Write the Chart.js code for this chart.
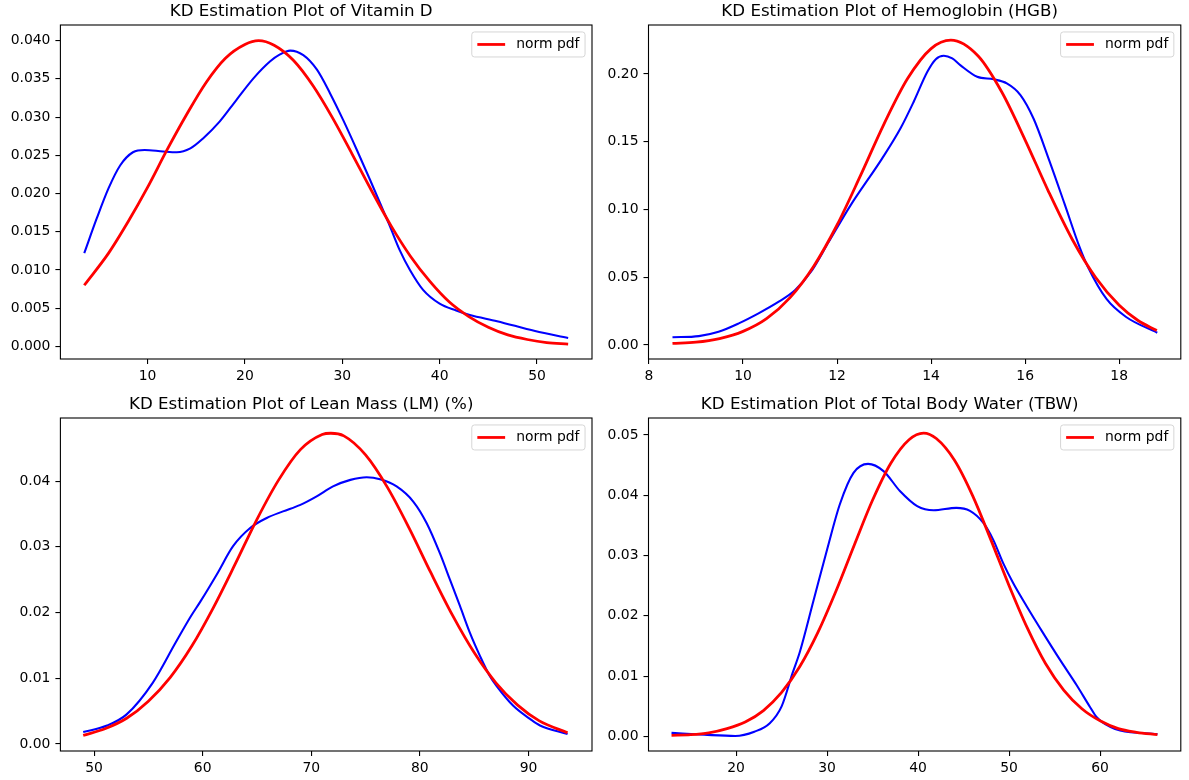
<!DOCTYPE html>
<html>
<head>
<meta charset="utf-8">
<script src="https://cdn.jsdelivr.net/npm/chart.js@4.4.1/dist/chart.umd.min.js"></script>
<style>
  html, body { margin: 0; padding: 0; background: #ffffff; }
  #wrap { position: relative; width: 1189px; height: 780px; overflow: hidden; background: #ffffff; }
  #wrap canvas { position: absolute; }
</style>
</head>
<body>
<div id="wrap">
  <canvas id="c1" width="594" height="390" style="left:0px;top:0px;width:594px;height:390px"></canvas>
  <canvas id="c2" width="595" height="390" style="left:594px;top:0px;width:595px;height:390px"></canvas>
  <canvas id="c3" width="594" height="390" style="left:0px;top:390px;width:594px;height:390px"></canvas>
  <canvas id="c4" width="595" height="390" style="left:594px;top:390px;width:595px;height:390px"></canvas>
</div>
<script>
// ---------------- data ----------------
const titles = [
  "KD Estimation Plot of Vitamin D",
  "KD Estimation Plot of Hemoglobin (HGB)",
  "KD Estimation Plot of Lean Mass (LM) (%)",
  "KD Estimation Plot of Total Body Water (TBW)"
];
const normLabel = "norm pdf";

// Vitamin D
const vitDKdeX  = [3.5, 4.8, 6.0, 7.2, 8.5, 9.7, 11.6, 13.0, 14.4, 15.7, 17.4, 19.1, 20.9, 22.6, 23.6, 24.65, 26.0, 27.4, 28.75, 30.1, 31.5, 32.85, 33.9, 34.9, 35.9, 36.95, 38.3, 40.0, 41.7, 43.1, 45.9, 49.8, 53.2];
const vitDKdeY  = [0.0122, 0.0168, 0.0207, 0.0237, 0.0254, 0.0257, 0.0255, 0.0254, 0.0259, 0.0272, 0.0294, 0.0322, 0.0351, 0.0373, 0.0382, 0.0387, 0.0381, 0.0362, 0.0331, 0.0296, 0.0257, 0.0218, 0.0187, 0.0157, 0.0126, 0.0100, 0.0074, 0.0056, 0.0047, 0.0041, 0.0033, 0.0020, 0.0011];
const vitDNormX = [3.5, 6, 8, 10, 12, 14, 16, 18, 20, 21.4, 23, 25, 27, 29, 31, 33, 35, 37, 39, 41, 43, 45, 47, 49, 51, 53.2];
const vitDNormY = [0.0080, 0.0122, 0.0163, 0.0208, 0.0257, 0.0303, 0.0345, 0.0377, 0.0395, 0.0400, 0.0394, 0.0374, 0.0341, 0.0299, 0.0252, 0.0204, 0.0158, 0.0118, 0.0085, 0.0058, 0.0039, 0.0025, 0.0015, 0.0009, 0.0005, 0.0003];
const vitDXTicks = [10, 20, 30, 40, 50];
const vitDYTicks = [0, 0.005, 0.010, 0.015, 0.020, 0.025, 0.030, 0.035, 0.040];

// Hemoglobin
const hgbKdeX  = [8.5, 9.06, 9.48, 9.91, 10.33, 10.76, 11.11, 11.47, 11.82, 12.29, 12.96, 13.35, 13.63, 13.92, 14.1, 14.27, 14.45, 14.62, 14.98, 15.33, 15.61, 15.9, 16.18, 16.51, 16.84, 17.16, 17.33, 17.73, 18.14, 18.81];
const hgbKdeY  = [0.0057, 0.0066, 0.0098, 0.016, 0.0234, 0.032, 0.0406, 0.0553, 0.0760, 0.1033, 0.1378, 0.160, 0.1796, 0.2017, 0.2110, 0.2135, 0.2115, 0.2066, 0.198, 0.1961, 0.1931, 0.1845, 0.167, 0.1365, 0.104, 0.072, 0.058, 0.034, 0.0209, 0.0091];
const hgbNormX = [8.5, 9, 9.5, 10, 10.5, 11, 11.5, 12, 12.5, 13, 13.5, 14, 14.42, 15, 15.5, 16, 16.5, 17, 17.5, 18, 18.4, 18.8];
const hgbNormY = [0.0012, 0.0021, 0.0048, 0.0101, 0.0195, 0.0350, 0.0580, 0.0886, 0.1252, 0.1633, 0.1967, 0.2188, 0.2250, 0.2133, 0.1869, 0.1513, 0.1131, 0.0781, 0.0498, 0.0293, 0.0181, 0.0107];
const hgbXTicks = [8, 10, 12, 14, 16, 18];
const hgbYTicks = [0, 0.05, 0.10, 0.15, 0.20];

// Lean Mass
const lmKdeX  = [49.0, 51.2, 53.0, 55.4, 57.5, 58.9, 59.8, 61.3, 62.8, 64.4, 65.9, 67.4, 69.0, 70.5, 72.0, 73.6, 75.1, 76.33, 77.86, 79.39, 80.63, 81.85, 82.77, 83.69, 84.61, 85.53, 86.45, 87.07, 88.6, 90.14, 91.06, 93.6];
const lmKdeY  = [0.0018, 0.0028, 0.0045, 0.0093, 0.0154, 0.0194, 0.0217, 0.0258, 0.0301, 0.0329, 0.0344, 0.0354, 0.0364, 0.0377, 0.0392, 0.0402, 0.0406, 0.0403, 0.0392, 0.0369, 0.0336, 0.0290, 0.0250, 0.0210, 0.0169, 0.0134, 0.0103, 0.0088, 0.0058, 0.0038, 0.0028, 0.0015];
const lmNormX = [49, 51, 53, 55, 57, 59, 61, 63, 65, 67, 69, 71, 71.8, 73, 75, 77, 79, 81, 83, 85, 87, 89, 91, 93.6];
const lmNormY = [0.0013, 0.0023, 0.0039, 0.0065, 0.0101, 0.0149, 0.0208, 0.0274, 0.0342, 0.0402, 0.0448, 0.0471, 0.0473, 0.0469, 0.0440, 0.0391, 0.0329, 0.0261, 0.0196, 0.0139, 0.0093, 0.0059, 0.0035, 0.0017];
const lmXTicks = [50, 60, 70, 80, 90];
const lmYTicks = [0, 0.01, 0.02, 0.03, 0.04];

// Total Body Water
const tbwKdeX  = [12.9, 16.5, 19.9, 22.0, 23.7, 25.0, 26.2, 27.0, 28.5, 30.0, 31.4, 32.9, 34.5, 36.2, 38.0, 39.9, 41.7, 44.2, 45.7, 47.17, 48.26, 49.36, 50.46, 51.93, 53.76, 55.6, 57.43, 58.89, 59.63, 61.1, 62.2, 66.3];
const tbwKdeY  = [0.0006, 0.0003, 0.0001, 0.0008, 0.0022, 0.0050, 0.0105, 0.0140, 0.0225, 0.0310, 0.0385, 0.0437, 0.0452, 0.0440, 0.0407, 0.0382, 0.0375, 0.0379, 0.0374, 0.0354, 0.0326, 0.0287, 0.0254, 0.0216, 0.0171, 0.0127, 0.0085, 0.0049, 0.0032, 0.0016, 0.0010, 0.0004];
const tbwNormX = [12.9, 15, 17, 19, 21, 23, 25, 27, 29, 31, 33, 35, 37, 39, 40.6, 42, 44, 46, 48, 50, 52, 54, 56, 58, 60, 62, 64, 66.3];
const tbwNormY = [0.0002, 0.0003, 0.0006, 0.0013, 0.0024, 0.0043, 0.0073, 0.0116, 0.0173, 0.0242, 0.0318, 0.0392, 0.0453, 0.0492, 0.0503, 0.0494, 0.0458, 0.0399, 0.0326, 0.0250, 0.0180, 0.0121, 0.0077, 0.0046, 0.0026, 0.0013, 0.0007, 0.0003];
const tbwXTicks = [20, 30, 40, 50, 60];
const tbwYTicks = [0, 0.01, 0.02, 0.03, 0.04, 0.05];

// ---------------- layout / styling ----------------
const FONT = '"DejaVu Sans", sans-serif';
const TICK_FS = 13.9;
const TITLE_FS = 16.67;
const Y_W = 50;   // fixed y-axis width
const X_H = 26;   // fixed x-axis height

const panels = [
  { id: 'c1', title: titles[0], kx: vitDKdeX, ky: vitDKdeY, nx: vitDNormX, ny: vitDNormY,
    xTicks: vitDXTicks, yTicks: vitDYTicks, yDec: 3,
    xMin: 1.05, xMax: 55.65, yMin: -0.00165, yMax: 0.04205,
    w: 594, h: 390, area: { left: 60.4, right: 592, top: 25, bottom: 359 }, titleMid: 11.2 },
  { id: 'c2', title: titles[1], kx: hgbKdeX, ky: hgbKdeY, nx: hgbNormX, ny: hgbNormY,
    xTicks: hgbXTicks, yTicks: hgbYTicks, yDec: 2,
    xMin: 7.99, xMax: 19.31, yMin: -0.0103, yMax: 0.2362,
    w: 595, h: 390, area: { left: 54.5, right: 586.8, top: 25, bottom: 359 }, titleMid: 11.2 },
  { id: 'c3', title: titles[2], kx: lmKdeX, ky: lmKdeY, nx: lmNormX, ny: lmNormY,
    xTicks: lmXTicks, yTicks: lmYTicks, yDec: 2,
    xMin: 46.9, xMax: 95.85, yMin: -0.00108, yMax: 0.04962,
    w: 594, h: 390, area: { left: 60.4, right: 592, top: 28, bottom: 361 }, titleMid: 14.2 },
  { id: 'c4', title: titles[3], kx: tbwKdeX, ky: tbwKdeY, nx: tbwNormX, ny: tbwNormY,
    xTicks: tbwXTicks, yTicks: tbwYTicks, yDec: 2,
    xMin: 10.37, xMax: 68.87, yMin: -0.0024, yMax: 0.0528,
    w: 595, h: 390, area: { left: 54.5, right: 586.8, top: 28, bottom: 361 }, titleMid: 14.2 }
];

function zip(xs, ys) { return xs.map((x, i) => ({ x: x, y: ys[i] })); }

const framePlugin = {
  id: 'mplFrame',
  afterDatasetsDraw(chart) {
    const a = chart.chartArea, ctx = chart.ctx;
    ctx.save();
    ctx.strokeStyle = '#000000';
    ctx.lineWidth = 1.1;
    ctx.strokeRect(a.left, a.top, a.right - a.left, a.bottom - a.top);
    ctx.restore();
  }
};

const legendPlugin = {
  id: 'mplLegend',
  afterDraw(chart) {
    const items = chart.data.datasets.filter(d => d.label);
    if (!items.length) return;
    const ctx = chart.ctx, a = chart.chartArea;
    const fs = TICK_FS;
    const pad = 0.4 * fs, hl = 2 * fs, htp = 0.8 * fs, bap = 0.5 * fs;
    ctx.save();
    ctx.font = fs + 'px ' + FONT;
    let tw = 0;
    items.forEach(d => { tw = Math.max(tw, ctx.measureText(d.label).width); });
    const rowH = fs;
    const w = pad + hl + htp + tw + pad;
    const h = 2 * pad + rowH * items.length;
    const x0 = a.right - bap - w, y0 = a.top + bap, r = 0.2 * fs;
    ctx.beginPath();
    ctx.moveTo(x0 + r, y0);
    ctx.arcTo(x0 + w, y0, x0 + w, y0 + h, r);
    ctx.arcTo(x0 + w, y0 + h, x0, y0 + h, r);
    ctx.arcTo(x0, y0 + h, x0, y0, r);
    ctx.arcTo(x0, y0, x0 + w, y0, r);
    ctx.closePath();
    ctx.fillStyle = 'rgba(255,255,255,0.8)';
    ctx.fill();
    ctx.strokeStyle = 'rgba(204,204,204,0.8)';
    ctx.lineWidth = 1;
    ctx.stroke();
    items.forEach((d, i) => {
      const cy = y0 + pad + rowH * i + rowH / 2;
      ctx.beginPath();
      ctx.moveTo(x0 + pad, cy);
      ctx.lineTo(x0 + pad + hl, cy);
      ctx.strokeStyle = d.borderColor;
      ctx.lineWidth = d.borderWidth;
      ctx.stroke();
      ctx.fillStyle = '#000000';
      ctx.textAlign = 'left';
      ctx.textBaseline = 'middle';
      ctx.fillText(d.label, x0 + pad + hl + htp, cy);
    });
    ctx.restore();
  }
};

Chart.defaults.font.family = FONT;
Chart.defaults.color = '#000000';

panels.forEach(p => {
  const tp = p.titleMid - TITLE_FS * 1.2 / 2;
  new Chart(document.getElementById(p.id), {
    type: 'line',
    data: {
      datasets: [
        { label: normLabel, data: zip(p.nx, p.ny), borderColor: '#ff0000', borderWidth: 2.78,
          pointRadius: 0, fill: false, cubicInterpolationMode: 'monotone' },
        { label: '', data: zip(p.kx, p.ky), borderColor: '#0000ff', borderWidth: 2.08,
          pointRadius: 0, fill: false, cubicInterpolationMode: 'monotone' }
      ]
    },
    options: {
      responsive: false,
      animation: false,
      events: [],
      layout: { padding: { left: p.area.left - Y_W, right: p.w - p.area.right, top: 0, bottom: p.h - p.area.bottom - X_H } },
      plugins: {
        legend: { display: false },
        tooltip: { enabled: false },
        title: { display: true, text: p.title, color: '#000000',
                 font: { family: FONT, size: TITLE_FS, weight: 'normal', lineHeight: 1.2 },
                 padding: { top: tp, bottom: p.area.top - tp - TITLE_FS * 1.2 } }
      },
      scales: {
        x: {
          type: 'linear', min: p.xMin, max: p.xMax,
          afterBuildTicks: ax => { ax.ticks = p.xTicks.map(v => ({ value: v })); },
          afterFit: ax => { ax.height = X_H; },
          grid: { drawOnChartArea: false, drawTicks: true, tickLength: 5, color: '#000000', lineWidth: 1.1 },
          border: { display: false },
          ticks: { color: '#000000', font: { family: FONT, size: TICK_FS }, padding: 4,
                   autoSkip: false, maxRotation: 0, minRotation: 0, callback: v => String(v) }
        },
        y: {
          type: 'linear', min: p.yMin, max: p.yMax,
          afterBuildTicks: ax => { ax.ticks = p.yTicks.map(v => ({ value: v })); },
          afterFit: ax => { ax.width = Y_W; },
          grid: { drawOnChartArea: false, drawTicks: true, tickLength: 5, color: '#000000', lineWidth: 1.1 },
          border: { display: false },
          ticks: { color: '#000000', font: { family: FONT, size: TICK_FS }, padding: 5,
                   autoSkip: false, callback: v => Number(v).toFixed(p.yDec) }
        }
      }
    },
    plugins: [framePlugin, legendPlugin]
  });
});
</script>
</body>
</html>
